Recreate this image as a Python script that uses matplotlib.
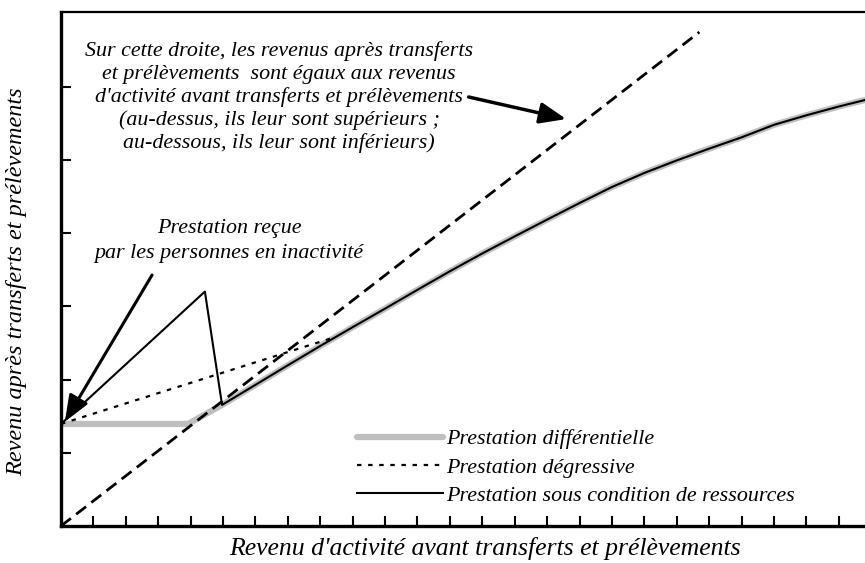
import matplotlib
matplotlib.use("Agg")
import matplotlib.pyplot as plt
import numpy as np

plt.rcParams['font.family'] = ['Liberation Serif', 'DejaVu Serif']
plt.rcParams['font.style'] = 'italic'

# revenu d'activite (x) -> revenu apres transferts (y), same units on both axes
curve_x = [4.97, 6, 7, 8, 9, 10, 11, 12, 13, 14, 15, 16, 17, 18, 19, 20, 21, 22, 23, 24, 24.81]
curve_y = [4.83, 5.63, 6.41, 7.18, 7.93, 8.67, 9.42, 10.16, 10.87, 11.55, 12.22, 12.88,
           13.52, 14.08, 14.58, 15.05, 15.50, 16.00, 16.38, 16.73, 16.99]

# prestation differentielle: flat minimum then the common curve
diff_x = [0, 3.92] + curve_x
diff_y = [4.07, 4.07] + curve_y

# prestation degressive: straight rise until it joins the curve
degr_x = [0, 8.3]
degr_y = [4.07, 7.47]

# prestation sous condition de ressources: rises, then cliff back to the curve
cond_x = [0, 4.44] + curve_x
cond_y = [4.07, 9.35] + curve_y

# identity line (apres = avant)
diag_x = [0, 19.7]
diag_y = [0, 19.7]

labels = ["Prestation différentielle", "Prestation dégressive",
          "Prestation sous condition de ressources"]

fig = plt.figure(figsize=(8.65, 5.63), dpi=100)
ax = fig.add_axes([61 / 865, 37 / 563, 1 - 61 / 865, 514 / 563])

ax.plot(diff_x, diff_y, color='#bfbfbf', lw=4.5, solid_capstyle='round', label=labels[0])
ax.plot(degr_x, degr_y, color='black', lw=1.6, dashes=(2, 3), label=labels[1])
ax.plot(cond_x, cond_y, color='black', lw=1.5, label=labels[2])
ax.plot(diag_x, diag_y, color='black', lw=2.0, dashes=(4.5, 2.4))

ax.set_xlim(0, 24.81)
ax.set_ylim(0, 20.5)
ax.set_xticks(np.arange(1, 25))
ax.set_yticks(np.arange(1, 7) * 2.92)
ax.set_xticklabels([])
ax.set_yticklabels([])
ax.tick_params(direction='in', length=7, width=1.5, color='black')
ax.spines['right'].set_visible(False)
ax.spines['left'].set_linewidth(2.4)
ax.spines['bottom'].set_linewidth(2.4)
ax.spines['top'].set_linewidth(1.6)

ax.text(6.73, 17.10,
        "Sur cette droite, les revenus après transferts\n"
        "et prélèvements  sont égaux aux revenus\n"
        "d'activité avant transferts et prélèvements\n"
        "(au-dessus, ils leur sont supérieurs ;\n"
        "au-dessous, ils leur sont inférieurs)",
        ha='center', va='center', multialignment='center', fontsize=15.8, linespacing=1.22)
ax.annotate("", xy=(15.59, 16.23), xytext=(12.58, 17.11),
            arrowprops=dict(arrowstyle='-|>,head_length=0.8,head_width=0.32',
                            color='black', lw=2.5, mutation_scale=20, shrinkA=0, shrinkB=0))

ax.text(5.19, 11.38, "Prestation reçue\npar les personnes en inactivité",
        ha='center', va='center', multialignment='center', fontsize=15.8, linespacing=1.45)
ax.annotate("", xy=(0.12, 4.16), xytext=(2.81, 10.01),
            arrowprops=dict(arrowstyle='-|>,head_length=0.8,head_width=0.32',
                            color='black', lw=2.2, mutation_scale=20, shrinkA=0, shrinkB=0))

ax.legend(loc='upper left', bbox_to_anchor=(357 / 865, 1 - 429 / 563),
          bbox_transform=fig.transFigure, frameon=False, fontsize=15.8,
          handlelength=3.9, handletextpad=0.18, labelspacing=0.36,
          borderpad=0, borderaxespad=0)

fig.text(485 / 865, 1 - 548 / 563, "Revenu d'activité avant transferts et prélèvements",
         ha='center', va='center', fontsize=18.5)
fig.text(17 / 865, 1 - 282 / 563, "Revenu après transferts et prélèvements",
         ha='center', va='center', rotation=90, fontsize=17.5)

fig.savefig("out.png", dpi=100)
